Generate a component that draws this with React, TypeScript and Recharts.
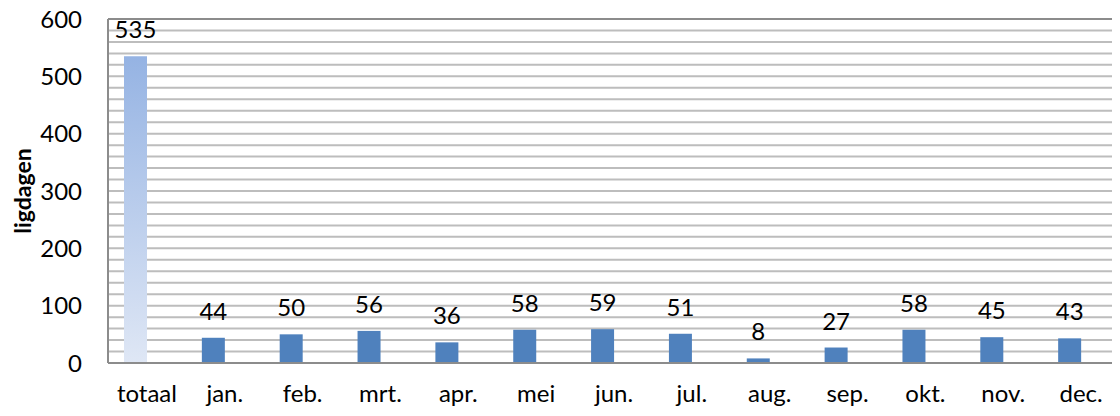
import { BarChart, Bar, XAxis, YAxis, CartesianGrid, Cell, LabelList, ReferenceLine } from "recharts";

const categories = ["totaal", "jan.", "feb.", "mrt.", "apr.", "mei", "jun.", "jul.", "aug.", "sep.", "okt.", "nov.", "dec."];
const ligdagen = [535, 44, 50, 56, 36, 58, 59, 51, 8, 27, 58, 45, 43];
const yLabels = [0, 100, 200, 300, 400, 500, 600];
const gridTicks = [
  0, 20, 40, 60, 80, 100, 120, 140, 160, 180, 200, 220, 240, 260, 280, 300,
  320, 340, 360, 380, 400, 420, 440, 460, 480, 500, 520, 540, 560, 580, 600,
];

const data = categories.map((name, i) => ({ name, ligdagen: ligdagen[i], leeg: null }));

const font = "Lato, 'Open Sans', sans-serif";

const YTitle = (props: any) => {
  const { viewBox } = props;
  const x = 22;
  const y = viewBox.y + viewBox.height / 2;
  return (
    <text
      x={x}
      y={y}
      transform={`rotate(-90, ${x}, ${y})`}
      textAnchor="middle"
      dominantBaseline="central"
      fontFamily={font}
      fontSize={23}
      fontWeight="bold"
      fill="#000"
    >
      ligdagen
    </text>
  );
};

export default function App() {
  return (
    <div style={{ margin: -8 }}>
      <BarChart
        width={1120}
        height={416}
        data={data}
        margin={{ top: 19, right: 0, bottom: 23, left: 0 }}
        barGap={0}
      >
        <defs>
          <linearGradient id="totaalGrad" x1="0" y1="0" x2="0" y2="1">
            <stop offset="0%" stopColor="#95b3e3" />
            <stop offset="100%" stopColor="#dfe7f5" />
          </linearGradient>
        </defs>
        <CartesianGrid vertical={false} stroke="#bdbdbd" strokeWidth={2} />
        <XAxis
          dataKey="name"
          height={30}
          tickLine={false}
          tickSize={0}
          tickMargin={22}
          axisLine={{ stroke: "#8c8c8c", strokeWidth: 2 }}
          tick={{ fontFamily: font, fontSize: 24, fill: "#000" }}
          interval={0}
        />
        <YAxis
          width={108}
          domain={[0, 600]}
          ticks={gridTicks}
          interval={0}
          tickFormatter={(v: number) => (yLabels.includes(v) ? String(v) : "")}
          tickLine={false}
          tickSize={0}
          tickMargin={26}
          axisLine={{ stroke: "#8c8c8c", strokeWidth: 2 }}
          tick={{ fontFamily: font, fontSize: 24, fill: "#000" }}
          label={<YTitle />}
        />
        <ReferenceLine y={600} stroke="#8c8c8c" strokeWidth={2} />
        <Bar dataKey="ligdagen" barSize={23} fill="#4f81bd" isAnimationActive={false}>
          {data.map((d, i) => (
            <Cell key={d.name} fill={i === 0 ? "url(#totaalGrad)" : "#4f81bd"} />
          ))}
          <LabelList
            dataKey="ligdagen"
            position="top"
            offset={18}
            style={{ fontFamily: font, fontSize: 24, fill: "#000" }}
          />
        </Bar>
        <Bar dataKey="leeg" barSize={23} fill="#c0504d" isAnimationActive={false} />
      </BarChart>
    </div>
  );
}
